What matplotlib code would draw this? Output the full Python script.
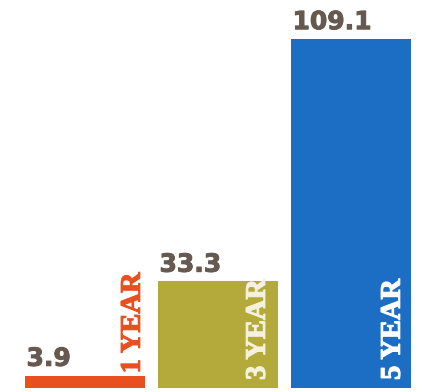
import matplotlib.pyplot as plt
import matplotlib.patheffects as pe

# Datos
periods = ['1 YEAR', '3 YEAR', '5 YEAR']
values = [3.9, 33.3, 109.1]
value_labels = ['3.9', '33.3', '109.1']
colors = ['#e8501f', '#b4aa3b', '#1b6ec3']
period_colors = ['#e8501f', '#f4f1dc', 'white']

fig = plt.figure(figsize=(4.33, 3.92), dpi=100)
ax = fig.add_axes([0, 0, 1, 1])

x = list(range(len(values)))
ax.bar(x, values, width=0.9, color=colors, align='center')

# valores encima de cada barra, alineados a la izquierda
for xi, v, lab in zip(x, values, value_labels):
    ax.annotate(lab, (xi - 0.45, v), xytext=(1, 7), textcoords='offset points',
                ha='left', va='baseline', fontsize=18, fontweight='bold',
                color='#665a50', family='DejaVu Sans',
                path_effects=[pe.withStroke(linewidth=0.7, foreground='#665a50')])

# etiquetas del periodo, giradas
offsets = [(0.7, 1.5), (-5, 5.8), (-3.6, 5.8)]
bases = [values[0], 0, 0]
for xi, p, c, b, off in zip(x, periods, period_colors, bases, offsets):
    ax.annotate(p, (xi + 0.45, b), xytext=off, textcoords='offset points',
                ha='right', va='bottom', rotation=90, fontsize=20.5,
                fontweight='bold', color=c, family='Liberation Serif',
                path_effects=[pe.withStroke(linewidth=0.8, foreground=c)])

ax.set_xlim(-0.639, 2.617)
ax.set_ylim(-1.25, 121.25)
ax.axis('off')

fig.savefig('out.png', dpi=100)
